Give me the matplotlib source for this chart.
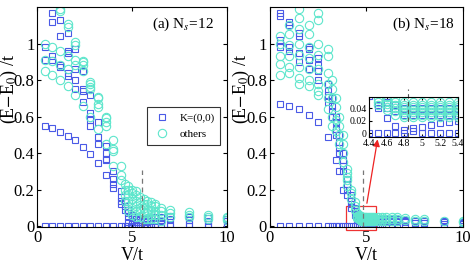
import numpy as np
import matplotlib
matplotlib.use('Agg')
import matplotlib.pyplot as plt
from matplotlib.patches import Rectangle

plt.rcParams['font.family'] = ['Liberation Serif', 'DejaVu Serif']
plt.rcParams['mathtext.fontset'] = 'stix'

# panel (a), Ns=12
va_sq = [0.4, 0.8, 1.2, 1.6, 2.0, 2.4, 2.8, 3.2, 3.6, 4.0, 4.4, 4.6, 4.8, 5.0, 5.2,
         5.4, 5.6, 5.8, 6.0, 6.2, 6.5, 7, 8, 9, 10]
ea_sq = [[0, 0.55, 0.91, 0.98],
         [0, 0.535, 0.91, 0.93, 1.12, 1.17],
         [0, 0.515, 0.87, 0.88, 1.04, 1.13],
         [0, 0.495, 0.82, 0.84, 0.95, 0.96, 1.06],
         [0, 0.47, 0.75, 0.80, 0.86, 0.97],
         [0, 0.435, 0.68, 0.74, 0.75, 0.85],
         [0, 0.395, 0.55, 0.58, 0.62, 0.72],
         [0, 0.345, 0.45, 0.49, 0.57],
         [0, 0.28, 0.36, 0.37, 0.40, 0.44],
         [0, 0.21, 0.23, 0.26, 0.30],
         [0, 0.12, 0.14, 0.16, 0.19],
         [0, 0.09, 0.11, 0.13],
         [0, 0.02, 0.05, 0.07, 0.09],
         [0, 0.01, 0.03, 0.05, 0.06],
         [0, 0.005, 0.02, 0.04],
         [0, 0.01, 0.02, 0.035],
         [0, 0.01, 0.025, 0.04],
         [0, 0.005, 0.02, 0.04],
         [0, 0.01, 0.03, 0.045],
         [0, 0.01, 0.03, 0.05],
         [0, 0.01, 0.03, 0.05],
         [0, 0.01, 0.04, 0.055],
         [0, 0.01, 0.035, 0.05],
         [0, 0.01, 0.03, 0.045],
         [0, 0.01, 0.025, 0.04]]
va_ci = [0.4, 0.8, 1.2, 1.6, 2.0, 2.4, 2.8, 3.2, 3.6, 4.0, 4.4, 4.6, 4.8, 5.0, 5.2,
         5.4, 5.6, 5.8, 6.0, 6.2, 6.5, 7, 8, 9, 10]
ea_ci = [[0.85, 0.91, 1.0],
         [0.83, 0.905, 0.98],
         [0.80, 0.88, 0.96, 1.18, 1.19],
         [0.77, 0.86, 0.93, 1.09, 1.11],
         [0.72, 0.88, 0.91, 0.99, 1.01],
         [0.66, 0.85, 0.88, 0.90, 0.905],
         [0.60, 0.75, 0.76, 0.78, 0.79],
         [0.53, 0.65, 0.67, 0.70, 0.71],
         [0.45, 0.55, 0.57, 0.59, 0.60],
         [0.33, 0.41, 0.42, 0.47],
         [0.25, 0.28, 0.33],
         [0.14, 0.17, 0.20, 0.23],
         [0.08, 0.11, 0.14, 0.17, 0.20, 0.22],
         [0.06, 0.09, 0.12, 0.15, 0.18, 0.20],
         [0.05, 0.08, 0.11, 0.14, 0.17, 0.19],
         [0.05, 0.08, 0.10, 0.13, 0.16],
         [0.04, 0.07, 0.10, 0.12, 0.15],
         [0.04, 0.07, 0.09, 0.12, 0.14],
         [0.04, 0.06, 0.09, 0.11, 0.13],
         [0.04, 0.06, 0.08, 0.11, 0.12],
         [0.03, 0.06, 0.08, 0.10],
         [0.05, 0.07, 0.09],
         [0.05, 0.06, 0.075],
         [0.04, 0.05, 0.06],
         [0.035, 0.045, 0.05]]

# panel (b), Ns=18
vb = [0.5, 1.0, 1.5, 2.0, 2.5, 3.0, 3.2, 3.4, 3.6, 3.8, 4.0, 4.2, 4.4, 4.5, 4.6, 4.7,
      4.8, 4.9, 5.0, 5.1, 5.2, 5.3, 5.4, 5.6, 5.8, 6.0, 6.3, 6.6, 7.0, 7.5, 8.0, 9.0, 10]
eb_sq = [[0, 0.67, 0.98, 1.02, 1.15, 1.17],
         [0, 0.66, 0.96, 0.98, 1.10, 1.12],
         [0, 0.64, 0.90, 0.95, 1.04, 1.06],
         [0, 0.61, 0.86, 0.91, 0.97, 0.98],
         [0, 0.57, 0.80, 0.85, 0.88, 0.92],
         [0, 0.49, 0.68, 0.72, 0.74, 0.78],
         [0, 0.60, 0.63, 0.66, 0.70],
         [0, 0.36, 0.50, 0.53, 0.57, 0.60],
         [0, 0.30, 0.40, 0.43, 0.46, 0.50],
         [0, 0.20, 0.30, 0.33, 0.36, 0.40],
         [0, 0.17, 0.20, 0.23, 0.26],
         [0, 0.10, 0.12, 0.14, 0.17],
         [0, 0.06, 0.08, 0.10],
         [0, 0.04, 0.045],
         [0, 0.025, 0.04, 0.05],
         [0, 0.012, 0.035, 0.045],
         [0, 0.005, 0.03, 0.04],
         [0.003, 0.008, 0.03, 0.04],
         [0, 0.01, 0.03, 0.04],
         [0, 0.013, 0.03, 0.04],
         [0, 0.016, 0.03, 0.04],
         [0, 0.018, 0.03, 0.04],
         [0, 0.02, 0.03, 0.04],
         [0, 0.02, 0.03, 0.04],
         [0, 0.02, 0.03, 0.04],
         [0, 0.02, 0.03, 0.04],
         [0, 0.02, 0.03, 0.04],
         [0, 0.02, 0.03, 0.04],
         [0, 0.02, 0.03, 0.035],
         [0, 0.015, 0.025, 0.03],
         [0, 0.015, 0.025, 0.03],
         [0, 0.01, 0.02, 0.025],
         [0, 0.01, 0.015, 0.02]]
eb_ci = [[0.83, 0.89, 0.93, 1.0, 1.04],
         [0.84, 0.87, 0.93, 0.99, 1.05, 1.1],
         [0.78, 0.81, 0.87, 0.94, 1.0, 1.08, 1.14, 1.19],
         [0.77, 0.80, 0.86, 0.92, 0.98, 1.05, 1.1],
         [0.72, 0.74, 0.78, 0.86, 0.94, 1.0, 1.13, 1.17],
         [0.64, 0.70, 0.78, 0.84, 0.93, 0.97],
         [0.55, 0.60, 0.70, 0.75, 0.80],
         [0.52, 0.58, 0.65, 0.70],
         [0.45, 0.50, 0.55, 0.60],
         [0.35, 0.40, 0.45, 0.50],
         [0.22, 0.25, 0.27, 0.29, 0.31],
         [0.15, 0.18, 0.20],
         [0.09, 0.11, 0.13],
         [0.045, 0.05, 0.055, 0.07],
         [0.037, 0.042, 0.047, 0.052, 0.058],
         [0.03, 0.035, 0.04, 0.045, 0.05, 0.056],
         [0.026, 0.03, 0.034, 0.038, 0.042, 0.046, 0.05],
         [0.026, 0.03, 0.034, 0.038, 0.042, 0.046, 0.05],
         [0.026, 0.03, 0.034, 0.038, 0.042, 0.046, 0.05],
         [0.026, 0.03, 0.034, 0.038, 0.042, 0.046, 0.05],
         [0.026, 0.03, 0.034, 0.038, 0.042, 0.046, 0.05],
         [0.026, 0.03, 0.034, 0.038, 0.042, 0.046, 0.05],
         [0.026, 0.03, 0.034, 0.038, 0.042, 0.046, 0.05],
         [0.03, 0.04, 0.05],
         [0.03, 0.04, 0.05],
         [0.03, 0.04, 0.05],
         [0.03, 0.04, 0.05],
         [0.03, 0.04, 0.05],
         [0.035, 0.045],
         [0.03, 0.04],
         [0.03, 0.04],
         [0.03],
         [0.02, 0.03]]

vc_a = 5.5   # dashed lines
vc_b = 4.84

sq_color = '#4a5ae6'
ci_color = '#5ee6cc'


def flat(v, e):
    x = np.concatenate([[vi] * len(ei) for vi, ei in zip(v, e)])
    y = np.concatenate([np.asarray(ei, float) for ei in e])
    return x, y


def draw(ax, v_sq, e_sq, v_ci, e_ci, ms_sq=4, ms_ci=6, clip=True):
    x, y = flat(v_sq, e_sq)
    ax.plot(x, y, 's', ms=ms_sq, mfc='none', mec=sq_color, mew=0.8, label='K=(0,0)',
            clip_on=clip)
    x, y = flat(v_ci, e_ci)
    ax.plot(x, y, 'o', ms=ms_ci, mfc='none', mec=ci_color, mew=0.8, label='others',
            clip_on=clip)


def style(ax):
    ax.tick_params(direction='in', top=True, right=True, labelsize=12, length=3, pad=2)
    for s in ax.spines.values():
        s.set_linewidth(0.8)


fig = plt.figure(figsize=(4.71, 2.63), dpi=100)
axa = fig.add_axes([0.079, 0.137, 0.403, 0.836])
axb = fig.add_axes([0.573, 0.137, 0.410, 0.836])

draw(axa, va_sq, ea_sq, va_ci, ea_ci)
draw(axb, vb, eb_sq, vb, eb_ci)

for ax, vc in ((axa, vc_a), (axb, vc_b)):
    ax.set_xlim(0, 10)
    ax.set_ylim(-0.005, 1.2)
    ax.set_xticks([0, 5, 10])
    ax.set_yticks([0, 0.2, 0.4, 0.6, 0.8, 1])
    ax.set_yticklabels(['0', '0.2', '0.4', '0.6', '0.8', '1'])
    ax.axvline(vc, ymin=0, ymax=0.26, color='#777777', ls=(0, (4, 3)), lw=0.9)
    ax.set_xlabel('V/t', fontsize=13)
    ax.set_ylabel(r'(E$-$E$_0$) /t', fontsize=13)
    ax.xaxis.set_label_coords(0.5, -0.09)
    ax.yaxis.set_label_coords(-0.092, 0.63)
    style(ax)

axa.text(9.3, 1.105, r'(a) N$_s$=12', ha='right', va='center', fontsize=11)
axb.text(9.6, 1.105, r'(b) N$_s$=18', ha='right', va='center', fontsize=11)

leg = axa.legend(loc='upper left', bbox_to_anchor=(0.579, 0.545), fontsize=8,
                 frameon=True, fancybox=False, edgecolor='black',
                 handletextpad=0.8, borderpad=0.5, labelspacing=0.6,
                 handlelength=1.6, borderaxespad=0)
leg.get_frame().set_linewidth(0.8)

# zoom box and arrow on panel (b)
axb.add_patch(Rectangle((3.95, -0.02), 1.55, 0.13, fill=False, ec='#ee3333', lw=0.9,
                        clip_on=False))
axb.annotate('', xy=(5.6, 0.49), xytext=(5.0, 0.11),
             arrowprops=dict(arrowstyle='-|>', color='#ee2222', lw=0.9,
                             mutation_scale=10))

# inset
axi = fig.add_axes([0.783, 0.479, 0.189, 0.152])
draw(axi, vb, eb_sq, vb, eb_ci, ms_sq=4, ms_ci=6)
axi.set_xlim(4.4, 5.4)
axi.set_ylim(-0.006, 0.058)
axi.set_xticks([4.4, 4.6, 4.8, 5, 5.2, 5.4])
axi.set_xticklabels(['4.4', '4.6', '4.8', '5', '5.2', '5.4'])
axi.set_yticks([0, 0.02, 0.04])
axi.set_yticklabels(['0', '0.02', '0.04'])
axi.axvline(vc_b, ymin=0, ymax=1.2, color='#555555', ls=(0, (4, 3)), lw=0.8, clip_on=False)
axi.tick_params(direction='in', top=True, right=True, labelsize=7, length=2, pad=1.5)
for s in axi.spines.values():
    s.set_linewidth(0.8)

fig.savefig('out.png', dpi=100)
